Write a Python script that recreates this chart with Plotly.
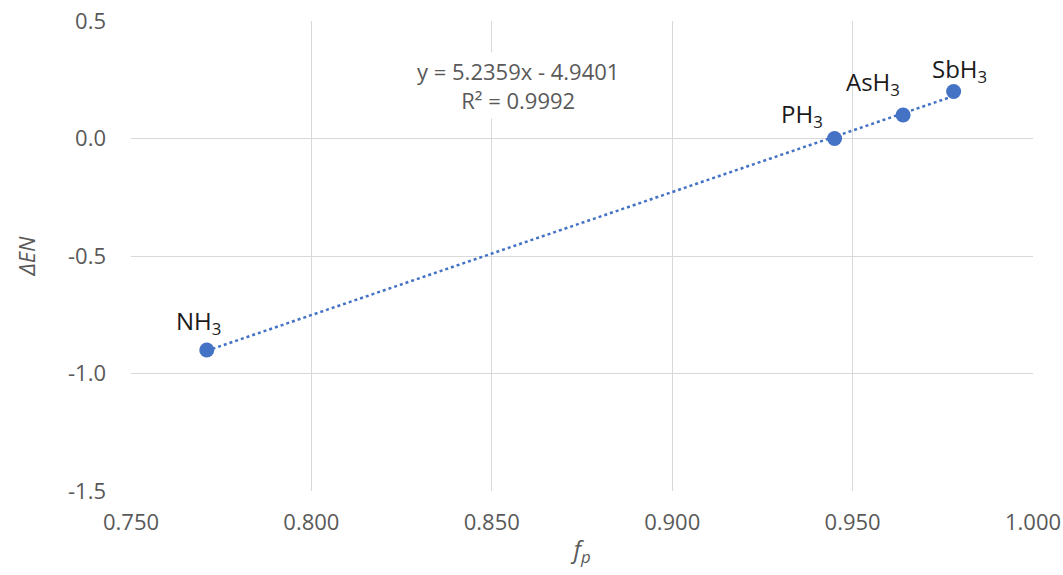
import plotly.graph_objects as go

# Hydride data: polarity factor f_p vs. electronegativity difference
compounds = ["NH<sub>3</sub>", "PH<sub>3</sub>", "AsH<sub>3</sub>", "SbH<sub>3</sub>"]
fp = [0.771, 0.945, 0.964, 0.978]
delta_en = [-0.90, 0.00, 0.10, 0.20]

# Linear trendline as reported
slope = 5.2359
intercept = -4.9401
r_squared = 0.9992

x_ticks = [0.75, 0.80, 0.85, 0.90, 0.95, 1.00]
y_ticks = [0.5, 0.0, -0.5, -1.0, -1.5]

BLUE = "#4472C4"
GRID = "#D9D9D9"
TICK = "#595959"
FONT = "'Open Sans', 'Noto Sans', sans-serif"

fig = go.Figure()

trend_x = [min(fp), max(fp)]
trend_y = [slope * v + intercept for v in trend_x]
fig.add_trace(go.Scatter(
    x=trend_x, y=trend_y, mode="lines",
    line=dict(color=BLUE, width=2.5, dash="dot"),
    hoverinfo="skip", showlegend=False,
))

fig.add_trace(go.Scatter(
    x=fp, y=delta_en, mode="markers",
    marker=dict(color=BLUE, size=15),
    showlegend=False,
))

# Point labels, offset in pixels from each marker
offsets = [(-8, 28), (-33, 24), (-30, 32), (6, 22)]
for name, xv, yv, (dx, dy) in zip(compounds, fp, delta_en, offsets):
    fig.add_annotation(
        x=xv, y=yv, xref="x", yref="y", text=name, showarrow=False,
        xshift=dx, yshift=dy,
        font=dict(family=FONT, size=24, color="#1a1a1a"),
    )

eq_sign = "-" if intercept < 0 else "+"
fig.add_annotation(
    x=0.8573, y=0.225, xref="x", yref="y",
    text=f"y = {slope:.4f}x {eq_sign} {abs(intercept):.4f}<br>R² = {r_squared:.4f}",
    showarrow=False, align="center",
    bgcolor="white", borderpad=3,
    font=dict(family=FONT, size=22, color=TICK),
)

fig.update_layout(
    width=1063, height=575,
    margin=dict(l=131, r=30, t=21, b=84),
    paper_bgcolor="white", plot_bgcolor="white",
    font=dict(family=FONT, size=22, color=TICK),
    xaxis=dict(
        range=[0.75, 1.0], tickvals=x_ticks,
        ticktext=[f"{v:.3f}" for v in x_ticks],
        showgrid=True, gridcolor=GRID, gridwidth=1,
        zeroline=False, showline=False, ticks="",
        automargin=False,
        ticklabelstandoff=16,
        tickfont=dict(family=FONT, size=22, color=TICK),
        title=dict(text="<i>f<sub>p</sub></i>", font=dict(family=FONT, size=24, color=TICK), standoff=6),
    ),
    yaxis=dict(
        range=[-1.5, 0.5], tickvals=y_ticks,
        ticktext=[f"{v:.1f}" for v in y_ticks],
        showgrid=True, gridcolor=GRID, gridwidth=1,
        zeroline=False, showline=False, ticks="",
        automargin=False,
        ticklabelstandoff=24,
        tickfont=dict(family=FONT, size=22, color=TICK),
        title=dict(text="<i>ΔEN</i>", font=dict(family=FONT, size=22, color=TICK), standoff=26),
    ),
)

fig.write_html("out.html")
